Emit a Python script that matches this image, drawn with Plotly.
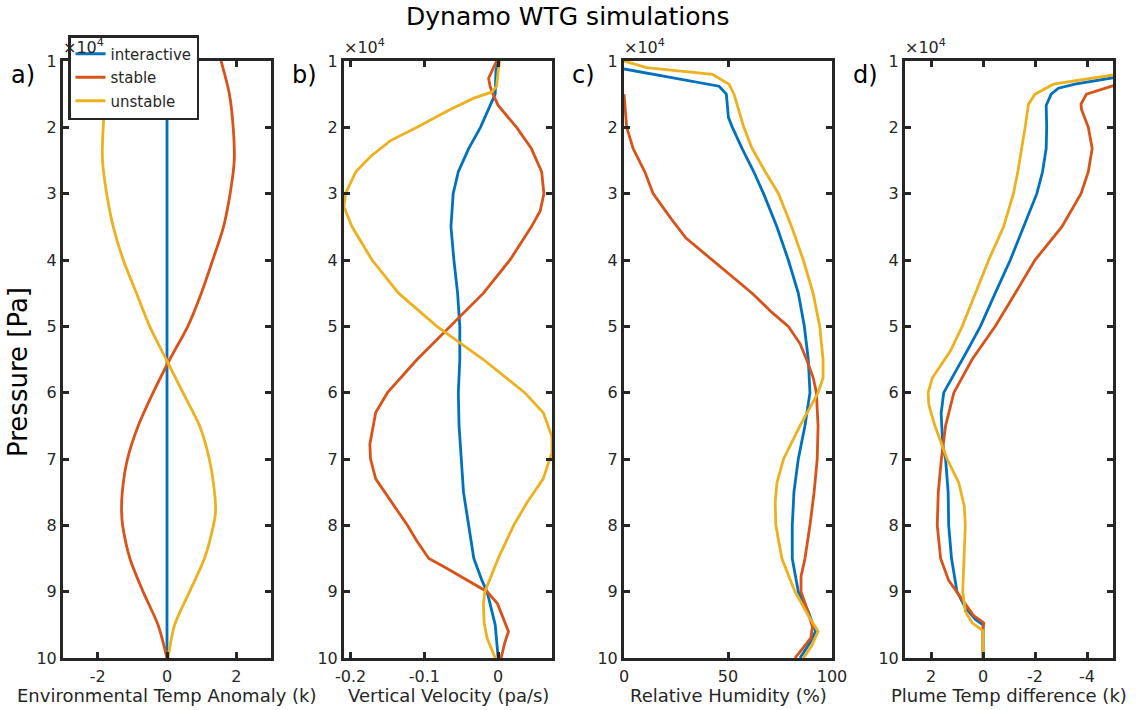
import plotly.graph_objects as go

# ---------------- data (pressure in 1e4 Pa, values per panel) ----------------
# a) Environmental temperature anomaly (K)
p_env = [1.0, 1.5, 2.0, 2.5, 3.0, 3.5, 4.0, 4.5, 5.0, 5.5, 6.0, 6.5, 7.0, 7.5, 7.8, 8.0, 8.5, 9.0, 9.5, 10.0]
env_interactive = [0.0] * len(p_env)
env_stable = [1.56, 1.80, 1.91, 1.94, 1.82, 1.63, 1.32, 0.99, 0.60, 0.08, -0.40, -0.83, -1.14, -1.29, -1.31, -1.28, -1.07, -0.69, -0.26, 0.0]
env_unstable = [-1.50, -1.75, -1.84, -1.86, -1.74, -1.55, -1.26, -0.88, -0.50, -0.02, 0.46, 0.94, 1.22, 1.37, 1.40, 1.34, 1.08, 0.65, 0.22, 0.03]

# b) Vertical velocity (Pa/s)
p_w_int = [1.0, 1.15, 1.5, 1.67, 2.0, 2.32, 2.67, 3.0, 3.5, 4.0, 4.5, 5.0, 5.5, 6.0, 6.5, 7.0, 7.5, 8.0, 8.5, 8.83, 9.0, 9.5, 10.0]
w_interactive = [0.0, -0.003, -0.004, -0.011, -0.024, -0.040, -0.054, -0.061, -0.064, -0.060, -0.055, -0.052, -0.052,
                 -0.054, -0.053, -0.050, -0.047, -0.040, -0.033, -0.022, -0.015, -0.004, 0.0]
p_w_sta = [1.0, 1.15, 1.26, 1.38, 1.5, 1.67, 2.0, 2.32, 2.67, 3.0, 3.26, 3.5, 4.0, 4.5, 5.0, 5.5, 6.0, 6.3, 6.78, 7.0,
           7.3, 7.66, 8.0, 8.24, 8.5, 8.62, 8.83, 9.0, 9.18, 9.6, 9.77, 10.0]
w_stable = [-0.002, -0.009, -0.013, -0.011, -0.007, 0.0, 0.025, 0.045, 0.059, 0.062, 0.057, 0.045, 0.016, -0.020, -0.065,
            -0.110, -0.150, -0.166, -0.174, -0.173, -0.166, -0.144, -0.123, -0.110, -0.094, -0.074, -0.042, -0.015,
            -0.001, 0.014, 0.009, 0.004]
p_w_uns = [1.0, 1.15, 1.38, 1.47, 1.56, 1.73, 2.0, 2.2, 2.44, 2.67, 3.0, 3.2, 3.5, 4.0, 4.5, 5.0, 5.5, 6.0, 6.3, 6.66,
           6.9, 7.3, 7.66, 8.0, 8.5, 9.0, 9.18, 9.47, 9.7, 10.0]
w_unstable = [0.002, 0.0, -0.002, -0.009, -0.033, -0.065, -0.110, -0.146, -0.173, -0.193, -0.207, -0.209, -0.198, -0.171,
              -0.135, -0.083, -0.020, 0.036, 0.061, 0.073, 0.073, 0.061, 0.039, 0.021, 0.0, -0.018, -0.020, -0.019,
              -0.015, -0.004]

# c) Relative humidity (%)
p_rh_int = [1.12, 1.38, 1.5, 1.67, 1.85, 2.0, 2.32, 2.67, 3.0, 3.5, 4.0, 4.5, 5.0, 5.5, 6.0, 6.5, 7.0, 7.5, 8.0, 8.5,
            9.0, 9.3, 9.6, 9.77, 10.0]
rh_interactive = [0.0, 45.7, 49.2, 49.8, 50.2, 52.1, 56.8, 62.4, 67.1, 73.5, 79.0, 83.8, 86.7, 88.6, 89.4, 87.0, 83.8,
                  81.7, 80.9, 80.9, 83.8, 88.6, 92.1, 89.4, 84.6]
p_rh_sta = [1.5, 2.0, 2.32, 2.67, 3.0, 3.38, 3.67, 4.0, 4.2, 4.5, 4.79, 5.0, 5.26, 5.5, 5.78, 6.0, 6.5, 7.0, 7.5, 8.0,
            8.5, 8.77, 9.0, 9.24, 9.53, 9.7, 10.0]
rh_stable = [0.0, 1.3, 4.4, 10.0, 14.0, 22.7, 29.8, 42.5, 50.5, 61.6, 71.1, 79.0, 84.6, 87.8, 91.0, 92.5, 93.3, 92.9,
             91.4, 89.4, 87.0, 85.1, 85.1, 87.8, 90.6, 89.8, 82.2]
p_rh_uns = [1.0, 1.1, 1.2, 1.35, 1.5, 2.0, 2.32, 2.67, 3.0, 3.5, 4.0, 4.5, 5.0, 5.5, 5.78, 6.0, 6.5, 7.0, 7.36, 7.66,
            8.0, 8.5, 9.0, 9.36, 9.6, 9.82, 10.0]
rh_unstable = [0.0, 10.8, 42.5, 50.5, 52.9, 57.6, 61.6, 67.9, 74.3, 80.6, 86.2, 90.9, 94.1, 95.7, 95.7, 93.3, 84.6, 76.7,
               73.5, 72.7, 73.0, 75.9, 82.2, 88.6, 93.3, 90.2, 86.2]

# d) Plume temperature difference (K)
p_pl_int = [1.2, 1.35, 1.41, 1.5, 1.67, 2.0, 2.32, 2.67, 3.0, 3.5, 4.0, 4.5, 5.0, 5.37, 5.72, 6.0, 6.31, 6.78, 7.0, 7.5,
            8.0, 8.5, 9.0, 9.24, 9.42, 9.5, 10.0]
pl_interactive = [-5.8, -3.54, -2.90, -2.62, -2.43, -2.45, -2.43, -2.29, -2.07, -1.56, -1.05, -0.47, 0.10, 0.61, 1.12,
                  1.51, 1.61, 1.55, 1.44, 1.34, 1.32, 1.21, 1.00, 0.68, 0.29, 0.0, 0.0]
p_pl_sta = [1.3, 1.5, 1.65, 1.73, 2.0, 2.32, 2.67, 3.0, 3.5, 4.0, 4.5, 5.0, 5.5, 6.0, 6.5, 7.0, 7.5, 8.0, 8.5, 8.83,
            9.12, 9.36, 9.47, 9.57, 10.0]
pl_stable = [-5.6, -3.98, -3.77, -3.79, -4.05, -4.20, -4.05, -3.77, -3.03, -2.00, -1.24, -0.47, 0.42, 1.12, 1.44, 1.60,
             1.72, 1.76, 1.63, 1.32, 0.80, 0.36, -0.03, 0.0, 0.0]
p_pl_uns = [1.15, 1.35, 1.5, 1.65, 2.0, 2.32, 2.67, 3.0, 3.5, 4.0, 4.5, 5.0, 5.37, 5.6, 5.78, 6.0, 6.19, 6.5, 7.0, 7.36,
            7.71, 8.0, 8.5, 9.0, 9.3, 9.47, 9.59, 10.0]
pl_unstable = [-6.0, -2.71, -2.00, -1.75, -1.62, -1.49, -1.34, -1.17, -0.79, -0.22, 0.29, 0.80, 1.25, 1.63, 1.95, 2.11,
               2.08, 1.85, 1.38, 0.93, 0.72, 0.68, 0.74, 0.78, 0.68, 0.42, 0.0, 0.0]

series_names = ["interactive", "stable", "unstable"]
colors = ["#0072BD", "#D95319", "#EDB120"]

panel_labels = ["a)", "b)", "c)", "d)"]
x_titles = ["Environmental Temp Anomaly (k)", "Vertical Velocity (pa/s)",
            "Relative Humidity (%)", "Plume Temp difference (k)"]
x_tickvals = [[-2, 0, 2], [-0.2, -0.1, 0], [0, 50, 100], [2, 0, -2, -4]]
x_ticktext = [["-2", "0", "2"], ["-0.2", "-0.1", "0"], ["0", "50", "100"], ["2", "0", "-2", "-4"]]
p_tickvals = [1, 2, 3, 4, 5, 6, 7, 8, 9, 10]
p_ticktext = ["1", "2", "3", "4", "5", "6", "7", "8", "9", "10"]
P_SCALE = 1e4

panels = [
    [(p_env, env_interactive), (p_env, env_stable), (p_env, env_unstable)],
    [(p_w_int, w_interactive), (p_w_sta, w_stable), (p_w_uns, w_unstable)],
    [(p_rh_int, rh_interactive), (p_rh_sta, rh_stable), (p_rh_uns, rh_unstable)],
    [(p_pl_int, pl_interactive), (p_pl_sta, pl_stable), (p_pl_uns, pl_unstable)],
]

# x ranges: a/c/d fixed limits, b tight to the data
w_all = w_interactive + w_stable + w_unstable
x_ranges = [[-3, 3], [min(w_all), max(w_all)], [0, 100], [3, -5]]

# ---------------- layout geometry (pixels on a 1143 x 710 canvas) ----------------
W, H = 1143, 710
left_px = [63, 344, 624, 905]
width_px = 208
top_px, bottom_px = 61, 658
ink = "#262626"
FONT = "DejaVu Sans"

fig = go.Figure()
annotations = []

for i, series in enumerate(panels):
    xa = "x" if i == 0 else f"x{i + 1}"
    ya = "y" if i == 0 else f"y{i + 1}"
    for j, (pp, vals) in enumerate(series):
        fig.add_trace(go.Scatter(
            x=vals, y=[p * P_SCALE for p in pp], mode="lines",
            line=dict(color=colors[j], width=2.8, shape="spline" if i == 0 else "linear", smoothing=0.8),
            name=series_names[j], legendgroup=series_names[j], showlegend=(i == 0),
            xaxis=xa, yaxis=ya, hoverinfo="skip",
        ))

    dom_x = [left_px[i] / W, (left_px[i] + width_px) / W]
    dom_y = [1 - bottom_px / H, 1 - top_px / H]
    axis_common = dict(
        showline=True, linewidth=3, linecolor=ink, mirror="ticks",
        ticks="inside", ticklen=6, tickwidth=2.5, tickcolor=ink,
        showgrid=False, zeroline=False, automargin=False,
        tickfont=dict(family=FONT, size=16, color=ink),
    )
    fig.layout[("xaxis" if i == 0 else f"xaxis{i + 1}")] = dict(
        domain=dom_x, anchor=ya, range=x_ranges[i], ticklabelstandoff=2,
        tickvals=x_tickvals[i], ticktext=x_ticktext[i], **axis_common,
    )
    fig.layout[("yaxis" if i == 0 else f"yaxis{i + 1}")] = dict(
        domain=dom_y, anchor=xa, range=[10 * P_SCALE, 1 * P_SCALE],
        tickvals=[v * P_SCALE for v in p_tickvals], ticktext=p_ticktext, **axis_common,
    )

    # exponent label above the pressure axis
    annotations.append(dict(
        x=(left_px[i] - 2) / W, y=1 - 59 / H, xref="paper", yref="paper", xanchor="left", yanchor="bottom",
        text="\u00d710<sup>4</sup>", showarrow=False, font=dict(family=FONT, size=16, color=ink),
    ))
    # panel letter
    annotations.append(dict(
        x=(left_px[i] - 54) / W, y=1 - 75 / H, xref="paper", yref="paper", xanchor="left", yanchor="middle",
        text=panel_labels[i], showarrow=False, font=dict(family=FONT, size=24, color="#000000"),
    ))
    # x-axis title
    annotations.append(dict(
        x=(left_px[i] + width_px / 2) / W, y=1 - 695 / H, xref="paper", yref="paper",
        xanchor="center", yanchor="middle",
        text=x_titles[i], showarrow=False, font=dict(family=FONT, size=18, color=ink),
    ))

# shared pressure title
annotations.append(dict(
    x=18 / W, y=1 - 372 / H, xref="paper", yref="paper", xanchor="center", yanchor="middle",
    text="Pressure [Pa]", textangle=-90, showarrow=False, font=dict(family=FONT, size=26, color="#000000"),
))
# figure title
annotations.append(dict(
    x=567 / W, y=1 - 17 / H, xref="paper", yref="paper", xanchor="center", yanchor="middle",
    text="Dynamo WTG simulations", showarrow=False, font=dict(family=FONT, size=25, color="#000000"),
))

fig.update_layout(
    width=W, height=H,
    margin=dict(l=0, r=0, t=0, b=0),
    paper_bgcolor="white", plot_bgcolor="white",
    annotations=annotations,
    legend=dict(
        x=68 / W, y=1 - 35 / H, xanchor="left", yanchor="top",
        bgcolor="white", bordercolor=ink, borderwidth=2.5,
        font=dict(family=FONT, size=15, color=ink),
        tracegroupgap=1,
    ),
    font=dict(family=FONT),
)

fig.write_html("out.html")
